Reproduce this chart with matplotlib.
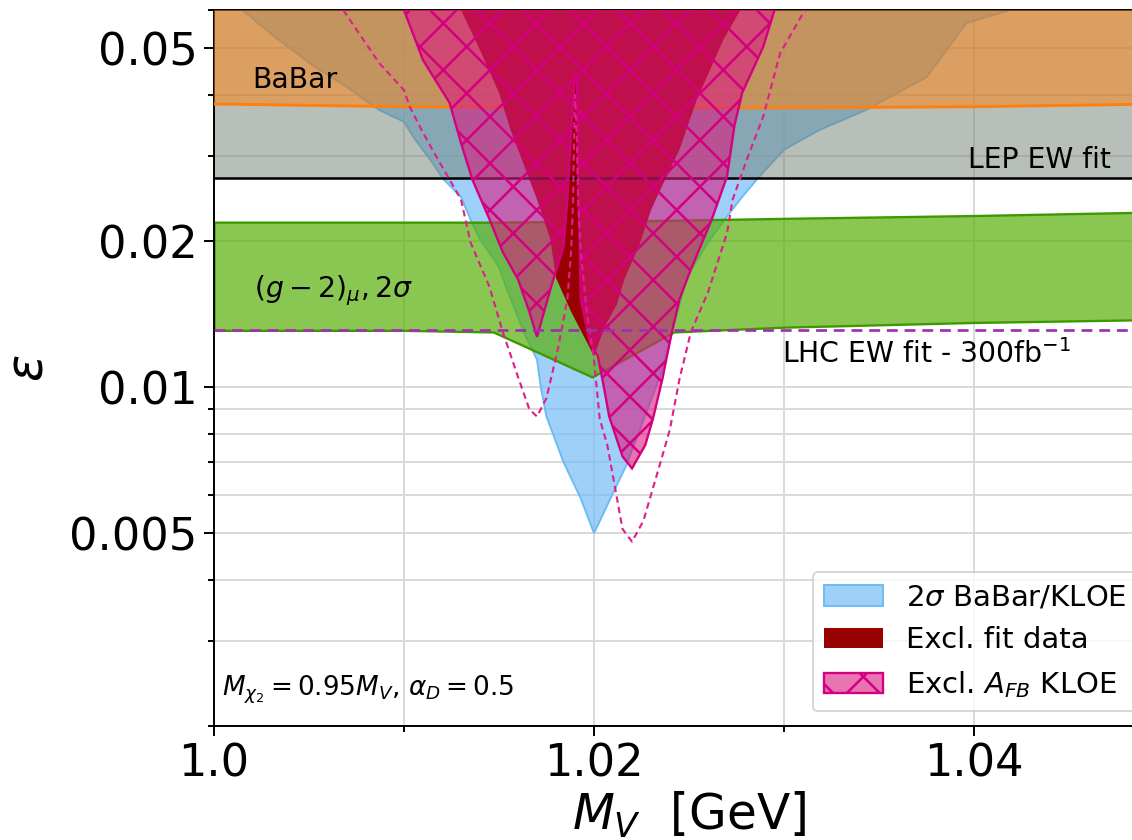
import numpy as np
import matplotlib.pyplot as plt
from matplotlib.ticker import FixedLocator, NullFormatter

# axis ranges
mv_lo, mv_hi = 1.0, 1.05
eps_lo, eps_hi = 0.002, 0.06

# BaBar exclusion (lower edge of the band)
babar_x = [1.0, 1.01, 1.02, 1.03, 1.04, 1.05]
babar_eps = [0.0384, 0.0379, 0.0377, 0.0377, 0.0379, 0.0384]

# EW fits
lep_eps = 0.027
lhc_eps = 0.0131

# (g-2)_mu 2 sigma band
gm2_x = [1.0, 1.010, 1.0147, 1.0199, 1.0242, 1.030, 1.040, 1.050]
gm2_lo = [0.0131, 0.0131, 0.0130, 0.0105, 0.0130, 0.0133, 0.0136, 0.0138]
gm2_hi = [0.0219, 0.0219, 0.0219, 0.0220, 0.0221, 0.0223, 0.0226, 0.0230]

# 2 sigma BaBar/KLOE region
blue_x = [1.0015, 1.0032, 1.0053, 1.0070, 1.0087, 1.0100, 1.0105, 1.0114, 1.0121,
          1.0130, 1.0135, 1.0140, 1.0150, 1.0153, 1.0163, 1.0170, 1.0172, 1.0175,
          1.0184, 1.0193, 1.0200, 1.0217, 1.0235, 1.0249, 1.0260, 1.0270, 1.0278,
          1.0287, 1.0300, 1.0319, 1.0343, 1.0375, 1.0396, 1.0419]
blue_eps = [0.060, 0.0528, 0.0458, 0.0416, 0.0373, 0.0353, 0.0328, 0.0294, 0.0268,
            0.0247, 0.0222, 0.0202, 0.0177, 0.0164, 0.0130, 0.0114, 0.0100, 0.0087,
            0.0070, 0.0059, 0.0050, 0.0069, 0.0106, 0.0169, 0.0199, 0.0225, 0.0247,
            0.0272, 0.0309, 0.0340, 0.0373, 0.0436, 0.0564, 0.060]

# excluded by fit data
fit_x = [1.0130, 1.0140, 1.0150, 1.0156, 1.0170, 1.0177, 1.0180, 1.0188, 1.0200,
         1.0206, 1.0212, 1.0216, 1.0224, 1.0230, 1.0235, 1.0245, 1.0254, 1.0268, 1.0277]
fit_eps = [0.060, 0.0496, 0.0405, 0.0340, 0.0244, 0.0202, 0.0168, 0.0143, 0.0116,
           0.0134, 0.0148, 0.0167, 0.0197, 0.0232, 0.0256, 0.0309, 0.0391, 0.0520, 0.060]

# excluded by A_FB KLOE
afb_x = [1.0100, 1.0110, 1.0124, 1.0130, 1.0136, 1.0145, 1.0152, 1.0160, 1.0166,
         1.0170, 1.0178, 1.0184, 1.0186, 1.0188, 1.0190, 1.0191, 1.0192, 1.0193,
         1.0198, 1.0202, 1.0205, 1.0208, 1.0215, 1.0220, 1.0227, 1.0231, 1.0236,
         1.0241, 1.0245, 1.0251, 1.0262, 1.0270, 1.0274, 1.0278, 1.0289, 1.0295]
afb_eps = [0.060, 0.0473, 0.0386, 0.0319, 0.0268, 0.0222, 0.0190, 0.0167, 0.0143,
           0.0127, 0.0164, 0.0195, 0.0244, 0.0340, 0.0441, 0.0441, 0.0244, 0.0152,
           0.0123, 0.0116, 0.0101, 0.0087, 0.0072, 0.0068, 0.0076, 0.0086, 0.0104,
           0.0130, 0.0152, 0.0175, 0.0222, 0.0272, 0.0348, 0.0405, 0.0503, 0.060]

# dashed A_FB contour
dash_x = [1.0068, 1.0087, 1.0100, 1.0103, 1.0110, 1.0117, 1.0124, 1.0130, 1.0135,
          1.0145, 1.0152, 1.0160, 1.0166, 1.0170, 1.0175, 1.0181, 1.0186, 1.0188,
          1.0189, 1.01895, 1.0190, 1.0191, 1.01916, 1.0193, 1.0196, 1.0200, 1.0203,
          1.0207, 1.0215, 1.0220, 1.0226, 1.0235, 1.0240, 1.0245, 1.0251, 1.0260,
          1.0270, 1.0273, 1.0281, 1.0289, 1.0298, 1.0311]
dash_eps = [0.060, 0.0466, 0.0410, 0.0379, 0.0335, 0.0299, 0.0268, 0.0244, 0.0199,
            0.0161, 0.0130, 0.0105, 0.0090, 0.0087, 0.0095, 0.0120, 0.0152, 0.0192,
            0.0244, 0.0324, 0.0401, 0.0324, 0.0244, 0.0192, 0.0145, 0.0114, 0.0086,
            0.0076, 0.0051, 0.0048, 0.0053, 0.0070, 0.0082, 0.0104, 0.0130, 0.0157,
            0.0208, 0.0244, 0.0299, 0.0361, 0.0489, 0.060]


def closed(x, y, top=0.08):
    # extend the contour above the plot so the polygon closes out of view
    return np.r_[x[0], x, x[-1]], np.r_[top, y, top]


fig = plt.figure(figsize=(1132 / 140, 840 / 140), dpi=140)
ax = fig.add_axes([214 / 1132, 114 / 840, 950 / 1132, 716 / 840])
ax.set_yscale('log')

bx, by = closed(blue_x, blue_eps)
blue = ax.fill(bx, by, facecolor=(0.46, 0.74, 0.97, 0.7), edgecolor='#6cbcf2',
               lw=1.0, zorder=1, label=r'2$\sigma$ BaBar/KLOE')[0]

ax.fill_between(gm2_x, gm2_lo, gm2_hi, facecolor=(0.35, 0.69, 0.03, 0.7),
                edgecolor='#3c9a00', lw=1.2, zorder=1.5)

ax.axhspan(lep_eps, 0.08, facecolor=(0.45, 0.5, 0.45, 0.5), lw=0, zorder=2)
ax.fill_between(babar_x, babar_eps, 0.08, facecolor=(1.0, 0.5, 0.05, 0.5), lw=0, zorder=3)
ax.plot(babar_x, babar_eps, color='#ff7f0e', lw=1.5, zorder=3)

fx, fy = closed(fit_x, fit_eps)
fit = ax.fill(fx, fy, facecolor='#990000', lw=0, zorder=4, label='Excl. fit data')[0]
ax.axhline(lep_eps, color='black', lw=1.3, zorder=4.5)

plt.rcParams['hatch.linewidth'] = 1.3
axp, ayp = closed(afb_x, afb_eps)
afb = ax.fill(axp, ayp, facecolor=(0.85, 0.1, 0.5, 0.6), edgecolor='#d4007f',
              hatch='x', lw=1.2, zorder=5, label=r'Excl. $A_{FB}$ KLOE')[0]

ax.plot(dash_x, dash_eps, ls='--', color='#e0208a', lw=1.1, dashes=(3, 2), zorder=6)
ax.axhline(lhc_eps, ls='--', color='#a030b0', lw=1.4, dashes=(4, 2.5), zorder=6)

ax.text(1.0020, 0.0430, 'BaBar', fontsize=14.5, va='center')
ax.text(1.0472, 0.0294, 'LEP EW fit', fontsize=14.5, va='center', ha='right')
ax.text(1.0021, 0.0158, r'$(g-2)_\mu, 2\sigma$', fontsize=14.5, va='center')
ax.text(1.0299, 0.0117, r'LHC EW fit - 300fb$^{-1}$', fontsize=14.5, va='center')
ax.text(1.0004, 0.00237, r'$M_{\chi_2}=0.95M_V$, $\alpha_D=0.5$', fontsize=13.5, va='center')

ax.set_xlim(mv_lo, mv_hi)
ax.set_ylim(eps_lo, eps_hi)

ax.set_xticks([1.0, 1.02, 1.04])
ax.set_xticklabels(['1.0', '1.02', '1.04'])
ax.xaxis.set_minor_locator(FixedLocator([1.01, 1.03, 1.05]))
ax.set_yticks([0.005, 0.01, 0.02, 0.05])
ax.set_yticklabels(['0.005', '0.01', '0.02', '0.05'])
ax.yaxis.set_minor_locator(FixedLocator([0.002, 0.003, 0.004, 0.006, 0.007, 0.008,
                                         0.009, 0.03, 0.04, 0.06]))
ax.yaxis.set_minor_formatter(NullFormatter())
ax.tick_params(which='major', labelsize=23, length=5, width=1.0)
ax.tick_params(which='minor', length=3, width=1.0)
ax.grid(True, which='both', color='#d9d9d9', lw=1.0)
ax.set_axisbelow(True)
for s in ax.spines.values():
    s.set_linewidth(1.0)

ax.set_xlabel(r'$M_V$  [GeV]', fontsize=25, labelpad=2)
ax.set_ylabel(r'$\epsilon$', fontsize=26, labelpad=8)

ax.legend(handles=[blue, fit, afb], loc='lower right', fontsize=15,
          bbox_to_anchor=(0.988, 0.0))

fig.savefig('out.png', dpi=140)
